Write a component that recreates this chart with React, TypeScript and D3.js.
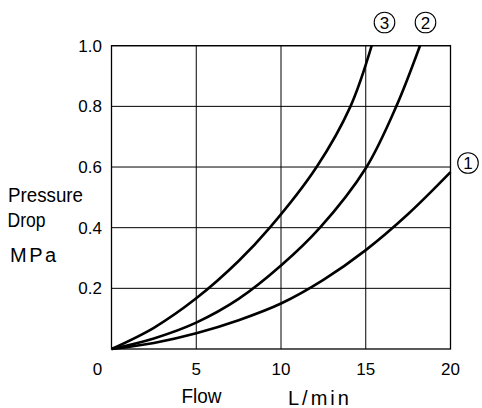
import React from "react";
import * as d3 from "d3";

const W = 482;
const H = 408;

// Data (Flow L/min -> Pressure Drop MPa)
const curve1Flow = [0, 2.5, 5, 7.5, 10, 12.5, 15, 17.5, 20];
const curve1Pressure = [0, 0.02, 0.052, 0.095, 0.15, 0.228, 0.326, 0.445, 0.583];
const curve2Flow = [0, 2.5, 5, 7.5, 10, 12.3, 15, 16.8, 18.2];
const curve2Pressure = [0, 0.035, 0.087, 0.165, 0.275, 0.4, 0.596, 0.8, 1.0];
const curve3Flow = [0, 2.5, 5, 7.5, 9.34, 12.1, 14.1, 15.35];
const curve3Pressure = [0, 0.07, 0.167, 0.29, 0.4, 0.6, 0.8, 1.0];

const xTicks = [0, 5, 10, 15, 20];
const yTicks = [0.2, 0.4, 0.6, 0.8, 1.0];
const curveLabels = ["1", "2", "3"];

export default function App() {
  const x = d3.scaleLinear().domain([0, 20]).range([111.5, 450.5]);
  const y = d3.scaleLinear().domain([0, 1]).range([349, 45.7]);

  const line = d3
    .line<[number, number]>()
    .x((d) => x(d[0]))
    .y((d) => y(d[1]))
    .curve(d3.curveCatmullRom.alpha(0.5));

  const series = [
    curve1Flow.map((f, i) => [f, curve1Pressure[i]] as [number, number]),
    curve2Flow.map((f, i) => [f, curve2Pressure[i]] as [number, number]),
    curve3Flow.map((f, i) => [f, curve3Pressure[i]] as [number, number]),
  ];

  const labelPos = [
    { cx: 468, cy: 163 },
    { cx: 425.5, cy: 22.5 },
    { cx: 384.5, cy: 22.5 },
  ];

  const font = "'Liberation Sans', Arial, sans-serif";

  return (
    <svg
      width={W}
      height={H}
      style={{ position: "absolute", left: 0, top: 0, background: "#fff" }}
    >
      <rect x={0} y={0} width={W} height={H} fill="#fff" />
      {/* grid */}
      {xTicks.map((t) => (
        <line key={"gx" + t} x1={x(t)} x2={x(t)} y1={y(0)} y2={y(1)} stroke="#000" strokeWidth={1} />
      ))}
      {yTicks.map((t) => (
        <line key={"gy" + t} x1={x(0)} x2={x(20)} y1={y(t)} y2={y(t)} stroke="#000" strokeWidth={1} />
      ))}
      <rect
        x={x(0)}
        y={y(1)}
        width={x(20) - x(0)}
        height={y(0) - y(1)}
        fill="none"
        stroke="#000"
        strokeWidth={1.3}
      />
      {/* curves */}
      {series.map((s, i) => (
        <path key={"c" + i} d={line(s) || ""} fill="none" stroke="#000" strokeWidth={2.6} />
      ))}
      {/* y tick labels */}
      {yTicks.map((t) => (
        <text
          key={"ty" + t}
          x={102}
          y={y(t)}
          dy="0.36em"
          textAnchor="end"
          fontFamily={font}
          fontSize={17}
          fill="#000"
        >
          {t.toFixed(1)}
        </text>
      ))}
      {/* x tick labels */}
      {xTicks.map((t) => (
        <text
          key={"tx" + t}
          x={t === 0 ? x(0) - 14 : x(t)}
          y={375}
          textAnchor="middle"
          fontFamily={font}
          fontSize={17}
          fill="#000"
        >
          {t}
        </text>
      ))}
      {/* axis titles */}
      <text x={8} y={201.5} fontFamily={font} fontSize={20} textLength={75} lengthAdjust="spacingAndGlyphs">
        Pressure
      </text>
      <text x={7.5} y={226.5} fontFamily={font} fontSize={20} textLength={38} lengthAdjust="spacingAndGlyphs">
        Drop
      </text>
      <text x={10} y={261.5} fontFamily={font} fontSize={20} letterSpacing={2.5}>
        MPa
      </text>
      <text x={181.5} y={403.3} fontFamily={font} fontSize={20} textLength={40} lengthAdjust="spacingAndGlyphs">
        Flow
      </text>
      <text x={288} y={405} fontFamily={font} fontSize={20} letterSpacing={3}>
        L/min
      </text>
      {/* circled curve labels */}
      {curveLabels.map((l, i) => (
        <g key={"l" + l}>
          <circle cx={labelPos[i].cx} cy={labelPos[i].cy} r={10.3} fill="none" stroke="#000" strokeWidth={1.1} />
          <text
            x={labelPos[i].cx}
            y={labelPos[i].cy}
            dy="0.36em"
            textAnchor="middle"
            fontFamily={font}
            fontSize={17}
            fill="#000"
          >
            {l}
          </text>
        </g>
      ))}
    </svg>
  );
}
